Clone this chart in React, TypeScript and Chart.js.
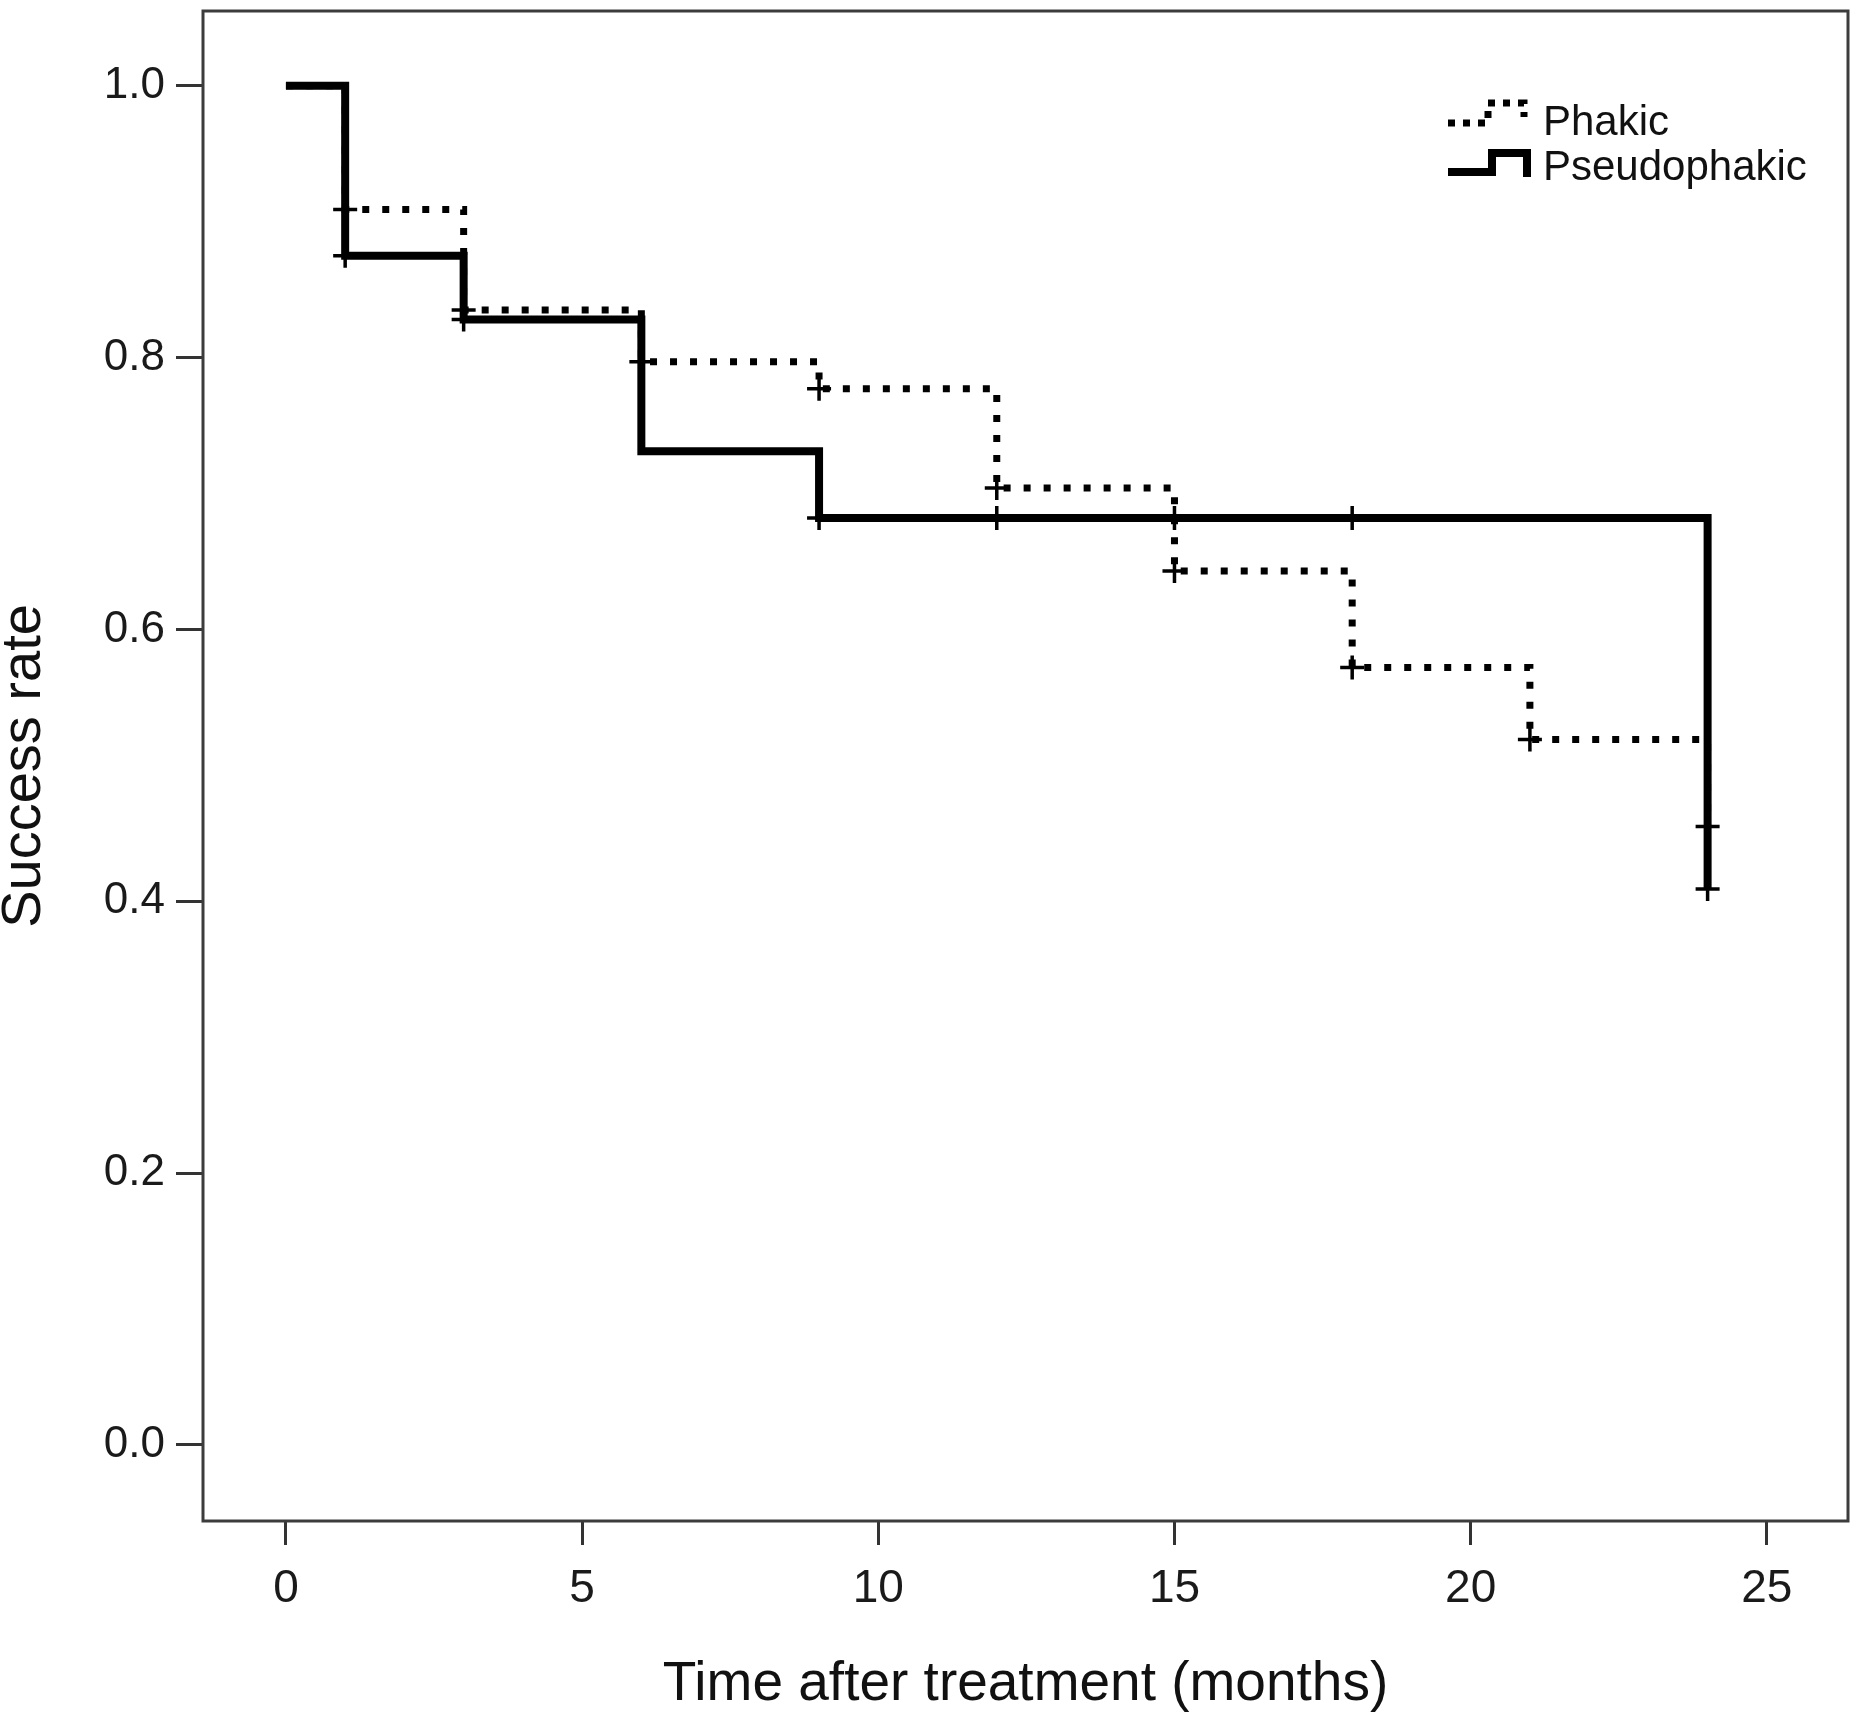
import React, { useEffect, useRef } from "react";
import { Chart, registerables } from "chart.js";

Chart.register(...registerables);

// ---- Data ----
const seriesNames = ["Phakic", "Pseudophakic"];
const phakicTimes = [0, 1, 3, 6, 9, 12, 15, 18, 21, 24];
const phakicSurvival = [1.0, 0.909, 0.835, 0.797, 0.777, 0.704, 0.643, 0.572, 0.519, 0.455];
const pseudoTimes = [0, 1, 3, 6, 9, 24];
const pseudoSurvival = [1.0, 0.875, 0.828, 0.731, 0.682, 0.409];
const phakicCensorTimes = [1, 3, 6, 9, 12, 15, 18, 21, 24];
const phakicCensorSurvival = [0.909, 0.835, 0.797, 0.777, 0.704, 0.643, 0.572, 0.519, 0.455];
const pseudoCensorTimes = [1, 3, 9, 12, 15, 18, 24];
const pseudoCensorSurvival = [0.875, 0.828, 0.682, 0.682, 0.682, 0.682, 0.409];
const xTickValues = [0, 5, 10, 15, 20, 25];
const yTickValues = [0, 0.2, 0.4, 0.6, 0.8, 1.0];
const xTitle = "Time after treatment (months)";
const yTitle = "Success rate";

const FONT = "'Liberation Sans', Arial, Helvetica, sans-serif";
const W = 1861;
const H = 1725;

const toPoints = (xs: number[], ys: number[]) => xs.map((x, i) => ({ x, y: ys[i] }));

const framePlugin = {
  id: "frame",
  beforeDatasetsDraw(chart: any) {
    const { ctx, chartArea } = chart;
    ctx.save();
    ctx.strokeStyle = "#3c3c3c";
    ctx.lineWidth = 3;
    ctx.strokeRect(chartArea.left, chartArea.top, chartArea.right - chartArea.left, chartArea.bottom - chartArea.top);
    ctx.restore();
  },
};

const legendPlugin = {
  id: "kmLegend",
  afterDraw(chart: any) {
    const { ctx, chartArea } = chart;
    const r = chartArea.right;
    const t = chartArea.top;
    ctx.save();
    ctx.strokeStyle = "#000";
    ctx.lineJoin = "miter";
    // Phakic icon (dotted step)
    ctx.lineWidth = 7;
    ctx.setLineDash([7, 8]);
    ctx.beginPath();
    ctx.moveTo(r - 400, t + 112);
    ctx.lineTo(r - 360, t + 112);
    ctx.lineTo(r - 360, t + 92);
    ctx.lineTo(r - 324, t + 92);
    ctx.lineTo(r - 324, t + 106);
    ctx.stroke();
    // Pseudophakic icon (solid step)
    ctx.setLineDash([]);
    ctx.lineWidth = 8;
    ctx.beginPath();
    ctx.moveTo(r - 400, t + 161);
    ctx.lineTo(r - 356, t + 161);
    ctx.lineTo(r - 356, t + 142);
    ctx.lineTo(r - 321, t + 142);
    ctx.lineTo(r - 321, t + 166);
    ctx.stroke();
    // Labels
    ctx.fillStyle = "#111";
    ctx.font = `42px ${FONT}`;
    ctx.textAlign = "left";
    ctx.textBaseline = "alphabetic";
    ctx.fillText(seriesNames[0], r - 305, t + 124);
    ctx.fillText(seriesNames[1], r - 305, t + 169);
    ctx.restore();
  },
};

export default function App() {
  const canvasRef = useRef<HTMLCanvasElement | null>(null);

  useEffect(() => {
    const canvas = canvasRef.current;
    if (!canvas) return;
    const chart = new Chart(canvas, {
      type: "line",
      data: {
        datasets: [
          {
            label: seriesNames[0],
            data: toPoints(phakicTimes, phakicSurvival),
            stepped: "before",
            borderColor: "#000",
            borderWidth: 7,
            borderDash: [7, 13],
            borderCapStyle: "butt",
            pointRadius: 0,
            fill: false,
          },
          {
            label: seriesNames[1],
            data: toPoints(pseudoTimes, pseudoSurvival),
            stepped: "before",
            borderColor: "#000",
            borderWidth: 8,
            borderCapStyle: "butt",
            borderJoinStyle: "miter",
            pointRadius: 0,
            fill: false,
          },
          {
            label: seriesNames[0] + " censored",
            data: toPoints(phakicCensorTimes, phakicCensorSurvival),
            showLine: false,
            pointStyle: "cross",
            pointRadius: 12,
            pointBorderWidth: 3.5,
            pointBorderColor: "#000",
            borderColor: "#000",
          },
          {
            label: seriesNames[1] + " censored",
            data: toPoints(pseudoCensorTimes, pseudoCensorSurvival),
            showLine: false,
            pointStyle: "cross",
            pointRadius: 12,
            pointBorderWidth: 3.5,
            pointBorderColor: "#000",
            borderColor: "#000",
          },
        ],
      },
      options: {
        responsive: false,
        animation: false,
        devicePixelRatio: 1,
        layout: { autoPadding: false, padding: { top: 11, right: 13, left: 0, bottom: 0 } },
        plugins: {
          legend: { display: false },
          tooltip: { enabled: false },
        },
        scales: {
          x: {
            type: "linear",
            min: -1.4,
            max: 26.37,
            afterBuildTicks: (scale: any) => {
              scale.ticks = xTickValues.map((v) => ({ value: v }));
            },
            afterFit: (scale: any) => {
              scale.height = 204;
              scale.paddingLeft = 0;
              scale.paddingRight = 0;
            },
            border: { display: false },
            grid: {
              drawOnChartArea: false,
              drawTicks: true,
              tickLength: 24,
              tickWidth: 3,
              tickColor: "#333",
            },
            ticks: {
              autoSkip: false,
              maxRotation: 0,
              padding: 17,
              color: "#1a1a1a",
              font: { family: FONT, size: 46 },
              callback: (v: any) => String(v),
            },
            title: {
              display: true,
              text: xTitle,
              color: "#111",
              font: { family: FONT, size: 55, lineHeight: 1.2 },
              padding: { top: 0, bottom: 7 },
            },
          },
          y: {
            type: "linear",
            min: -0.056,
            max: 1.055,
            afterBuildTicks: (scale: any) => {
              scale.ticks = yTickValues.map((v) => ({ value: v }));
            },
            afterFit: (scale: any) => {
              scale.width = 203;
              scale.paddingTop = 0;
              scale.paddingBottom = 0;
            },
            border: { display: false },
            grid: {
              drawOnChartArea: false,
              drawTicks: true,
              tickLength: 27,
              tickWidth: 3,
              tickColor: "#333",
            },
            ticks: {
              autoSkip: false,
              padding: 11,
              color: "#1a1a1a",
              font: { family: FONT, size: 44 },
              callback: (v: any) => Number(v).toFixed(1),
            },
            title: {
              display: true,
              text: yTitle,
              color: "#111",
              font: { family: FONT, size: 56, lineHeight: 0.8 },
              padding: { top: 2, bottom: 0 },
            },
          },
        },
      },
      plugins: [framePlugin, legendPlugin],
    } as any);
    return () => chart.destroy();
  }, []);

  return (
    <div style={{ position: "absolute", left: 0, top: 0, width: W, height: H, background: "#fff" }}>
      <canvas ref={canvasRef} width={W} height={H} style={{ width: W, height: H, display: "block" }} />
    </div>
  );
}
